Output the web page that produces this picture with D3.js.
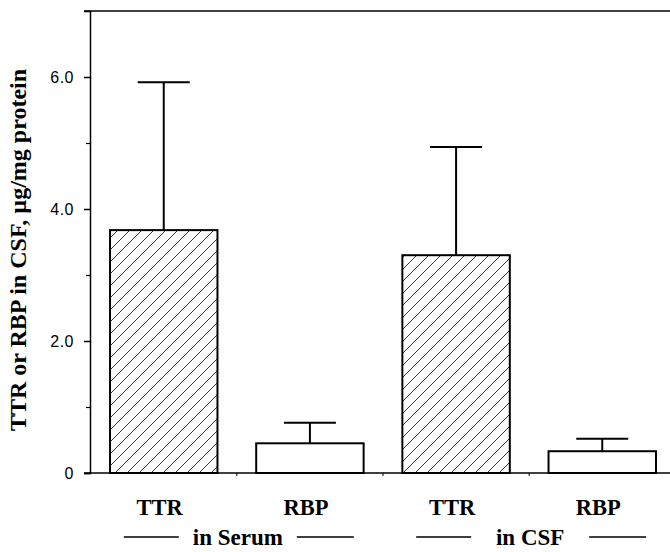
<!DOCTYPE html>
<html>
<head>
<meta charset="utf-8">
<script src="https://cdn.jsdelivr.net/npm/d3@7"></script>
<style>
  body { margin: 0; background: #fff; }
  svg { display: block; }
</style>
</head>
<body>
<svg id="chart" width="670" height="552"></svg>
<script>
// values
const CATEGORIES = ["TTR", "RBP", "TTR", "RBP"]
const MEANS = [3.68, 0.45, 3.30, 0.33]
const SD = [2.24, 0.31, 1.64, 0.19]
const HATCHED = [true, false, true, false]
const GROUPS = ["in Serum", "in CSF"]
const MAJOR_TICKS = [0, 2, 4, 6]
const MINOR_TICKS = [1, 3, 5]
const Y_LABEL = "TTR or RBP in CSF, \u00b5g/mg protein"

const LEFT = 90
const RIGHT = 676
const TOP = 11
const BOTTOM = 473

const svg = d3.select("#chart")

// hatch pattern for TTR bars
const defs = svg.append("defs")
const pat = defs.append("pattern")
    .attr("id", "hatch")
    .attr("patternUnits", "userSpaceOnUse")
    .attr("width", 12)
    .attr("height", 12)
pat.append("path")
    .attr("d", "M0,12 L12,0 M-3,3 L3,-3 M9,15 L15,9")
    .attr("stroke", "#333")
    .attr("stroke-width", 1)

const xScale = d3.scaleBand()
    .domain(d3.range(CATEGORIES.length))
    .range([LEFT, RIGHT])
    .paddingInner(0.265)
    .paddingOuter(0.137)

const yScale = d3.scaleLinear()
    .domain([0, 7])
    .range([BOTTOM, TOP])

// frame: top line
svg.append("line")
    .attr("x1", LEFT - 6).attr("x2", RIGHT)
    .attr("y1", TOP).attr("y2", TOP)
    .attr("stroke", "#000").attr("stroke-width", 1.5)

// left axis
const yAxis = svg.append("g")
    .attr("transform", `translate(${LEFT},0)`)
    .call(d3.axisLeft(yScale)
        .tickValues(MAJOR_TICKS)
        .tickSize(6)
        .tickPadding(10)
        .tickFormat(d => d === 0 ? "0" : d3.format(".1f")(d)))
yAxis.select(".domain").attr("stroke-width", 1.5)
yAxis.selectAll(".tick line").attr("stroke-width", 1.5)
yAxis.selectAll(".tick text")
    .attr("font-family", "Liberation Sans, Arial, sans-serif")
    .attr("font-size", 16)
    .attr("letter-spacing", 0.5)
    .attr("fill", "#000")

svg.append("g")
    .attr("transform", `translate(${LEFT},0)`)
    .call(d3.axisLeft(yScale).tickValues(MINOR_TICKS).tickSize(4).tickFormat(""))
    .call(g => g.select(".domain").remove())
    .selectAll(".tick line").attr("stroke-width", 1.2)

// bottom axis line
svg.append("line")
    .attr("x1", LEFT - 6).attr("x2", RIGHT)
    .attr("y1", BOTTOM).attr("y2", BOTTOM)
    .attr("stroke", "#000").attr("stroke-width", 1.5)

// small ticks between bars
const gapTicks = d3.range(1, CATEGORIES.length).map(i =>
    (xScale(i - 1) + xScale.bandwidth() + xScale(i)) / 2)
svg.selectAll(".gapTick")
    .data(gapTicks)
    .enter().append("line")
    .attr("class", "gapTick")
    .attr("x1", d => d).attr("x2", d => d)
    .attr("y1", BOTTOM).attr("y2", BOTTOM + 3)
    .attr("stroke", "#000").attr("stroke-width", 1)

// error bars
const CAP = 52
const err = svg.append("g")
MEANS.forEach((m, i) => {
    const cx = xScale(i) + xScale.bandwidth() / 2
    err.append("line")
        .attr("x1", cx).attr("x2", cx)
        .attr("y1", yScale(m)).attr("y2", yScale(m + SD[i]))
        .attr("stroke", "#000").attr("stroke-width", 2)
    err.append("line")
        .attr("x1", cx - CAP / 2).attr("x2", cx + CAP / 2)
        .attr("y1", yScale(m + SD[i])).attr("y2", yScale(m + SD[i]))
        .attr("stroke", "#000").attr("stroke-width", 2)
})

// bars
svg.selectAll(".bar")
    .data(MEANS)
    .enter().append("rect")
    .attr("class", "bar")
    .attr("x", (d, i) => xScale(i))
    .attr("y", d => yScale(d))
    .attr("width", xScale.bandwidth())
    .attr("height", d => BOTTOM - yScale(d))
    .attr("fill", (d, i) => HATCHED[i] ? "url(#hatch)" : "#fff")
    .attr("stroke", "#000")
    .attr("stroke-width", 2)

// category labels
svg.selectAll(".catLabel")
    .data(CATEGORIES)
    .enter().append("text")
    .attr("class", "catLabel")
    .attr("x", (d, i) => xScale(i) + xScale.bandwidth() / 2 - 4)
    .attr("y", 515)
    .attr("text-anchor", "middle")
    .attr("font-family", "Liberation Serif, Times New Roman, serif")
    .attr("font-weight", "bold")
    .attr("font-size", 22.5)
    .text(d => d)

// group labels with side lines
GROUPS.forEach((g, gi) => {
    const cx = (xScale(gi * 2) + xScale(gi * 2 + 1) + xScale.bandwidth()) / 2
    svg.append("text")
        .attr("x", cx + 1)
        .attr("y", 545)
        .attr("text-anchor", "middle")
        .attr("font-family", "Liberation Serif, Times New Roman, serif")
        .attr("font-weight", "bold")
        .attr("font-size", 23)
        .text(g)
    ;[[-113, -58], [60, 117]].forEach(([a, b]) => {
        svg.append("line")
            .attr("x1", cx + a).attr("x2", cx + b)
            .attr("y1", 537).attr("y2", 537)
            .attr("stroke", "#000").attr("stroke-width", 1.5)
    })
})

// y axis title
svg.append("text")
    .attr("transform", `translate(26, ${(TOP + BOTTOM) / 2 + 8}) rotate(-90)`)
    .attr("text-anchor", "middle")
    .attr("font-family", "Liberation Serif, Times New Roman, serif")
    .attr("font-weight", "bold")
    .attr("font-size", 24)
    .text(Y_LABEL)
</script>
</body>
</html>
